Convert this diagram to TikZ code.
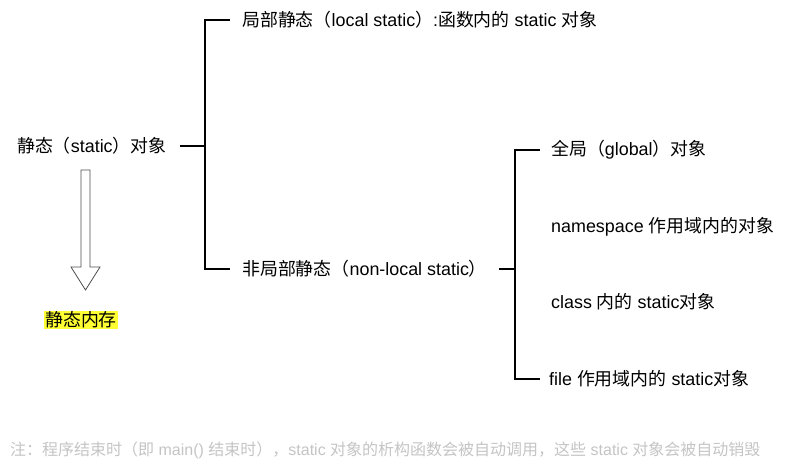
\documentclass[tikz,border=0pt]{standalone}
\usepackage{fontspec}
\setmainfont{Liberation Sans}
\newfontfamily\cjk{Noto Sans CJK SC}
\usetikzlibrary{positioning}
\newcommand{\zh}[1]{{\cjk #1}}
\definecolor{notegray}{HTML}{C4C4C4}
\definecolor{marker}{HTML}{FFFF33}

\begin{document}
\begin{tikzpicture}[x=1pt,y=-1pt,
    item/.style={anchor=west,inner sep=0pt,font=\fontsize{17.9}{21}\selectfont},
    bracket/.style={line width=1.6pt},
    note/.style={anchor=west,inner sep=0pt,text=notegray,font=\fontsize{16}{19}\selectfont}]
    \useasboundingbox (0,0) rectangle (788,470);
    % left tree
    \node[item] (root)     at (17,146)  {\zh{静态（}static\zh{）对象}};
    \node[item] (local)    at (242,20)  {\zh{局部静态（}local static\zh{）}:\zh{函数内的} static \zh{对象}};
    \node[item] (nonlocal) at (242,269) {\zh{非局部静态（}non-local static\zh{）}};
    \coordinate (leftbar) at (205,20);
    \draw[bracket] ([xshift=13pt]root.east) -- (root.east -| leftbar);
    \draw[bracket] ([xshift=-12pt]local.west) -| (leftbar |- nonlocal.west) -- ([xshift=-12pt]nonlocal.west);
    % right tree
    \node[item] (global)    at (551,150) {\zh{全局（}global\zh{）对象}};
    \node[item] (namespace) at (551,227) {namespace \zh{作用域内的对象}};
    \node[item] (classobj)  at (551,302) {class \zh{内的} static\zh{对象}};
    \node[item] (fileobj)   at (549,379) {file \zh{作用域内的} static\zh{对象}};
    \coordinate (rightbar) at (515,150);
    \draw[bracket] ([xshift=12pt]nonlocal.east) -- (nonlocal.east -| rightbar);
    \draw[bracket] ([xshift=-11pt]global.west) -| (rightbar |- fileobj.west) -- ([xshift=-9pt]fileobj.west);
    % hollow arrow
    \draw[black!70,line width=0.8pt] (81,170) -- (90,170) -- (90,267) -- (100,267)
        -- (85.5,290) -- (71,267) -- (81,267) -- cycle;
    \node[item,fill=marker,inner sep=1pt] (memory) at (44,320) {\zh{静态内存}};
    % footnote
    \node[note] (footnote) at (10,450) {\zh{注：程序结束时（即} main() \zh{结束时），}static \zh{对象的析构函数会被自动调用，这些} static \zh{对象会被自动销毁}};
\end{tikzpicture}
\end{document}
